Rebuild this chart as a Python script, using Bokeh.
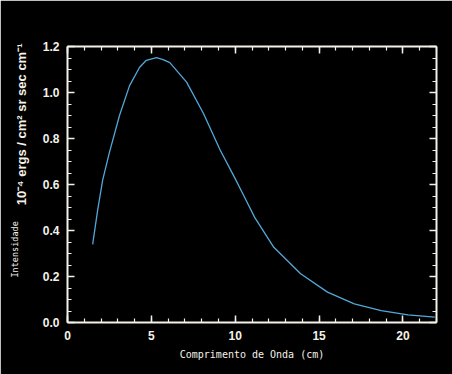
import math
from bokeh.plotting import figure
from bokeh.models import (LinearAxis, FixedTicker, Range1d, Title,
                          PrintfTickFormatter, CustomJSTickFormatter)
from bokeh.embed import file_html
from bokeh.resources import INLINE

# ---- data ----
wavelength = [1.5, 1.8, 2.1, 2.5, 3.1, 3.7, 4.3, 4.7, 5.3, 5.7, 6.1, 7.1,
              8.1, 9.1, 9.95, 10.55, 11.15, 12.3, 13.9, 15.5, 17.1, 18.7,
              20.3, 21.9]
intensity = [0.34, 0.49, 0.62, 0.74, 0.90, 1.03, 1.11, 1.14, 1.152, 1.143,
             1.13, 1.045, 0.91, 0.75, 0.632, 0.546, 0.458, 0.327, 0.212,
             0.132, 0.081, 0.052, 0.033, 0.023]

x_major = [0, 5, 10, 15, 20]
x_minor = [i for i in range(0, 23)]
y_major = [0.0, 0.2, 0.4, 0.6, 0.8, 1.0, 1.2]
y_minor = [round(i * 0.05, 2) for i in range(0, 25)]

x_title = "Comprimento de Onda (cm)"
y_title = "Intensidade"
y_units = "10\u207b\u2074 ergs / cm\u00b2 sr sec cm\u207b\u00b9"

FG = "#f4f2e8"
CURVE = "#52a8d8"

W, H = 452, 374
p = figure(width=W, height=H, output_backend="svg", toolbar_location=None,
           x_range=Range1d(0, 22), y_range=Range1d(0, 1.2),
           min_border_left=66, min_border_right=16, min_border_top=46,
           min_border_bottom=52,
           background_fill_color="black", border_fill_color="black",
           outline_line_color=None)
p.grid.visible = False

def style_axis(ax, major, minor, show_labels=True):
    ax.ticker = FixedTicker(ticks=major, minor_ticks=minor)
    ax.axis_line_color = FG
    ax.axis_line_width = 2
    ax.major_tick_line_color = FG
    ax.minor_tick_line_color = FG
    ax.major_tick_line_width = 1.5
    ax.minor_tick_line_width = 1.2
    ax.major_tick_in = 7
    ax.major_tick_out = 0
    ax.minor_tick_in = 4
    ax.minor_tick_out = 0
    if show_labels:
        ax.major_label_text_color = FG
        ax.major_label_text_font = "Liberation Sans"
        ax.major_label_text_font_style = "bold"
        ax.major_label_text_font_size = "12px"
        ax.major_label_standoff = 8
    else:
        ax.formatter = CustomJSTickFormatter(code="return ''")
        ax.major_label_standoff = 0

xa = p.xaxis[0]
style_axis(xa, x_major, x_minor)
xa.axis_label = x_title
xa.axis_label_text_font = "DejaVu Sans Mono"
xa.axis_label_text_font_style = "normal"
xa.axis_label_text_font_size = "10px"
xa.axis_label_text_color = FG
xa.axis_label_standoff = 6

ya = p.yaxis[0]
style_axis(ya, y_major, y_minor)
ya.formatter = PrintfTickFormatter(format="%.1f")

top = LinearAxis()
style_axis(top, x_major, x_minor, show_labels=False)
p.add_layout(top, "above")
right = LinearAxis()
style_axis(right, y_major, y_minor, show_labels=False)
p.add_layout(right, "right")

p.line(wavelength, intensity, line_color=CURVE, line_width=1.3)

p.add_layout(Title(text=y_units, align="right", offset=-3, standoff=22,
                   text_font="Liberation Sans", text_font_style="bold",
                   text_font_size="13px", text_color=FG), "left")
p.add_layout(Title(text=y_title, align="left", offset=45, standoff=-39,
                   text_font="DejaVu Sans Mono", text_font_style="normal",
                   text_font_size="8.5px", text_color=FG), "left")

html = file_html(p, INLINE)
html = html.replace("<body>", '<body style="background-color:black;">', 1)
open("out.html", "w").write(html)
